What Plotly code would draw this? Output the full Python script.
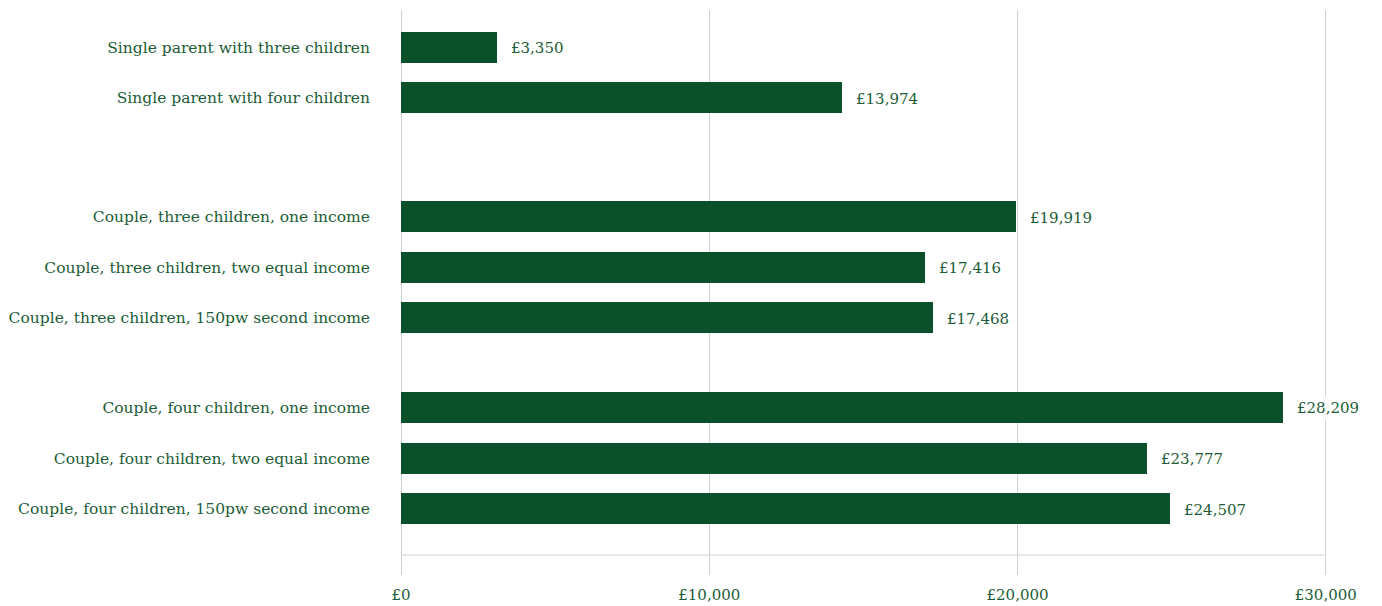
import plotly.graph_objects as go

categories = [
    "Single parent with three children",
    "Single parent with four children",
    "Couple, three children, one income",
    "Couple, three children, two equal income",
    "Couple, three children, 150pw second income",
    "Couple, four children, one income",
    "Couple, four children, two equal income",
    "Couple, four children, 150pw second income",
]
# bar lengths as drawn in the picture
bar_values = [3104, 14293, 19946, 16995, 17254, 28628, 24185, 24941]
# printed value labels
value_labels = ["£3,350", "£13,974", "£19,919", "£17,416", "£17,468",
                "£28,209", "£23,777", "£24,507"]
# slot positions (groups separated by gaps)
slots = [0, 1, 3.35, 4.35, 5.35, 7.12, 8.12, 9.12]

x_ticks = [0, 10000, 20000, 30000]
x_ticktext = ["£0", "£10,000", "£20,000", "£30,000"]

BAR = "#0c4f2b"
TXT = "#1d5c37"
GRID = "#cad2d8"
FONT = "DejaVu Serif"

fig = go.Figure()
fig.add_trace(go.Bar(
    x=bar_values, y=slots, orientation="h",
    marker=dict(color=BAR, line=dict(width=0)),
    width=0.61, hoverinfo="skip",
))

for v, s, t in zip(bar_values, slots, value_labels):
    fig.add_annotation(
        x=v, y=s, text=t, showarrow=False, xanchor="left", yanchor="middle",
        xshift=11, yshift=-1, bgcolor="white", borderpad=2,
        font=dict(family=FONT, size=15, color=TXT),
    )

fig.update_layout(
    width=1374, height=598,
    margin=dict(l=393, r=55, t=2, b=51),
    plot_bgcolor="white", paper_bgcolor="white",
    showlegend=False,
    bargap=0,
)
fig.update_xaxes(
    range=[-2, 30040], tickvals=x_ticks, ticktext=x_ticktext,
    showgrid=True, gridcolor=GRID, gridwidth=1,
    zeroline=True, zerolinecolor=GRID, zerolinewidth=1,
    showline=False,
    ticks="outside", ticklen=19, tickcolor=GRID, tickwidth=1,
    ticklabelstandoff=7,
    tickfont=dict(family=FONT, size=15, color=TXT),
    fixedrange=True,
)
# horizontal base line spanning 0..30000
fig.add_shape(type="line", xref="x", yref="paper",
              x0=x_ticks[0], x1=x_ticks[-1], y0=0, y1=0,
              line=dict(color=GRID, width=1), layer="below")
fig.update_yaxes(
    range=[10.035, -0.735], tickvals=slots, ticktext=categories,
    showgrid=False, zeroline=False, showline=False,
    ticks="", ticklabelstandoff=30,
    tickfont=dict(family=FONT, size=15.5, color=TXT),
    fixedrange=True,
)

fig.write_html("out.html")
